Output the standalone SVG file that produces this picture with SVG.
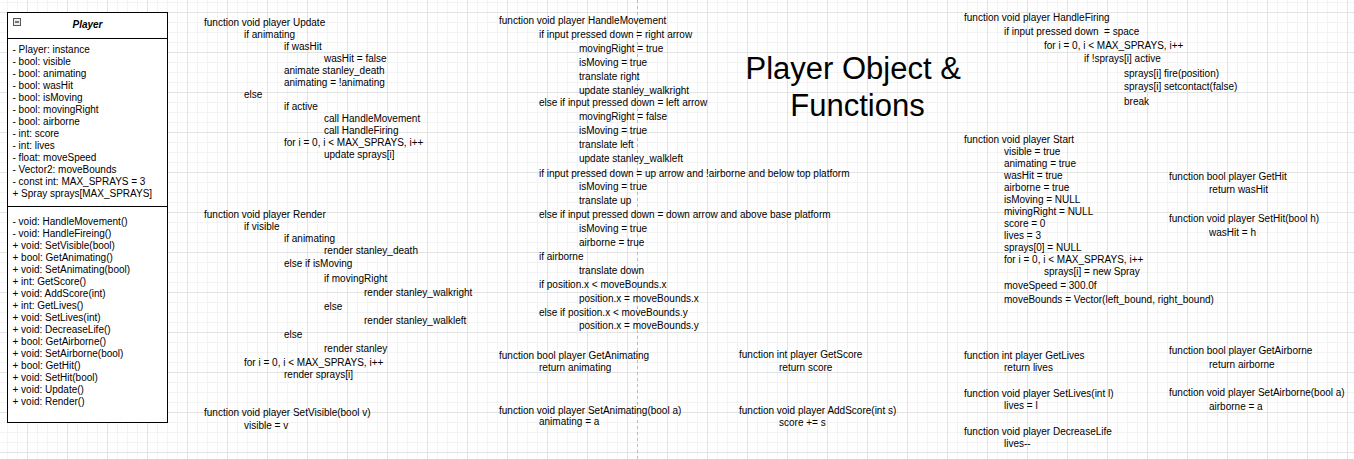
<svg xmlns="http://www.w3.org/2000/svg" width="1354" height="459" viewBox="0 0 1354 459">
<style>
.t{font-family:"Liberation Sans",Arial,Helvetica,sans-serif;font-size:10px;fill:#000}
.ttl{font-family:"Liberation Sans",Arial,Helvetica,sans-serif;font-size:31px;fill:#000;text-anchor:middle}
.hdr{font-family:"Liberation Sans",Arial,Helvetica,sans-serif;font-size:10px;font-weight:bold;font-style:italic;fill:#000;text-anchor:middle}
</style>
<defs>
<pattern id="grid" patternUnits="userSpaceOnUse" x="27" y="12" width="40" height="40">
<path d="M10.5 0V40M20.5 0V40M30.5 0V40M0 10.5H40M0 20.5H40M0 30.5H40" stroke="#f3f3f3" stroke-width="1" fill="none"/>
<path d="M0.5 0V40M0 0.5H40" stroke="#e3e3e3" stroke-width="1" fill="none"/>
</pattern>
</defs>
<rect width="1354" height="459" fill="#fff"/>
<rect width="1354" height="459" fill="url(#grid)"/>
<line x1="637.5" y1="0" x2="637.5" y2="459" stroke="#bdbdbd" stroke-width="1" stroke-dasharray="3 3"/>
<g id="connectors"/>

<g id="player-class">
<rect x="7.5" y="12.5" width="160" height="410" fill="#fff" stroke="#000"/>
<line x1="7.5" y1="38.5" x2="167.5" y2="38.5" stroke="#000"/>
<line x1="7.5" y1="206.5" x2="167.5" y2="206.5" stroke="#000"/>
<rect x="13.5" y="18.5" width="7" height="7" fill="#eee" stroke="#555"/>
<line x1="15" y1="22" x2="19" y2="22" stroke="#222" stroke-width="1.2"/>
<text class="hdr" x="87.5" y="28">Player</text>
<text class="t">
<tspan x="12.5" y="52.5">- Player: instance</tspan>
<tspan x="12.5" y="64.5">- bool: visible</tspan>
<tspan x="12.5" y="76.5">- bool: animating</tspan>
<tspan x="12.5" y="88.5">- bool: wasHit</tspan>
<tspan x="12.5" y="100.5">- bool: isMoving</tspan>
<tspan x="12.5" y="112.5">- bool: movingRight</tspan>
<tspan x="12.5" y="124.5">- bool: airborne</tspan>
<tspan x="12.5" y="136.5">- int: score</tspan>
<tspan x="12.5" y="148.5">- int: lives</tspan>
<tspan x="12.5" y="160.5">- float: moveSpeed</tspan>
<tspan x="12.5" y="172.5">- Vector2: moveBounds</tspan>
<tspan x="12.5" y="184.5">- const int: MAX_SPRAYS = 3</tspan>
<tspan x="12.5" y="196.5">+ Spray sprays[MAX_SPRAYS]</tspan>
</text>
<text class="t">
<tspan x="12.5" y="224.5">- void: HandleMovement()</tspan>
<tspan x="12.5" y="236.5">- void: HandleFireing()</tspan>
<tspan x="12.5" y="248.5">+ void: SetVisible(bool)</tspan>
<tspan x="12.5" y="260.5">+ bool: GetAnimating()</tspan>
<tspan x="12.5" y="272.5">+ void: SetAnimating(bool)</tspan>
<tspan x="12.5" y="284.5">+ int: GetScore()</tspan>
<tspan x="12.5" y="296.5">+ void: AddScore(int)</tspan>
<tspan x="12.5" y="308.5">+ int: GetLives()</tspan>
<tspan x="12.5" y="320.5">+ void: SetLives(int)</tspan>
<tspan x="12.5" y="332.5">+ void: DecreaseLife()</tspan>
<tspan x="12.5" y="344.5">+ bool: GetAirborne()</tspan>
<tspan x="12.5" y="356.5">+ void: SetAirborne(bool)</tspan>
<tspan x="12.5" y="368.5">+ bool: GetHit()</tspan>
<tspan x="12.5" y="380.5">+ void: SetHit(bool)</tspan>
<tspan x="12.5" y="392.5">+ void: Update()</tspan>
<tspan x="12.5" y="404.5">+ void: Render()</tspan>
</text>
</g>

<g id="fn-update">
<text class="t">
<tspan x="204" y="25.5">function void player Update</tspan>
<tspan x="244" y="37.5">if animating</tspan>
<tspan x="284" y="49.5">if wasHit</tspan>
<tspan x="324" y="61.5">wasHit = false</tspan>
<tspan x="284" y="73.5">animate stanley_death</tspan>
<tspan x="284" y="85.5">animating = !animating</tspan>
<tspan x="244" y="97.5">else</tspan>
<tspan x="284" y="109.5">if active</tspan>
<tspan x="324" y="121.5">call HandleMovement</tspan>
<tspan x="324" y="133.5">call HandleFiring</tspan>
<tspan x="284" y="145.5">for i = 0, i &lt; MAX_SPRAYS, i++</tspan>
<tspan x="324" y="157.5">update sprays[i]</tspan>
</text>
</g>

<g id="fn-render">
<text class="t">
<tspan x="204" y="217.5">function void player Render</tspan>
<tspan x="244" y="229.5">if visible</tspan>
<tspan x="284" y="241.5">if animating</tspan>
<tspan x="324" y="253.5">render stanley_death</tspan>
<tspan x="284" y="267">else if isMoving</tspan>
<tspan x="324" y="281.5">if movingRight</tspan>
<tspan x="364" y="295.5">render stanley_walkright</tspan>
<tspan x="324" y="309.5">else</tspan>
<tspan x="364" y="323.5">render stanley_walkleft</tspan>
<tspan x="284" y="337.5">else</tspan>
<tspan x="324" y="351.5">render stanley</tspan>
<tspan x="244" y="365.5">for i = 0, i &lt; MAX_SPRAYS, i++</tspan>
<tspan x="284" y="377.5">render sprays[i]</tspan>
</text>
</g>

<g id="fn-setvisible">
<text class="t">
<tspan x="204" y="415.8">function void player SetVisible(bool v)</tspan>
<tspan x="244" y="428.5">visible = v</tspan>
</text>
</g>

<g id="fn-handlemovement">
<text class="t">
<tspan x="499" y="24.2">function void player HandleMovement</tspan>
<tspan x="539" y="38.2">if input pressed down = right arrow</tspan>
<tspan x="579" y="52.2">movingRight = true</tspan>
<tspan x="579" y="66.2">isMoving = true</tspan>
<tspan x="579" y="80.2">translate right</tspan>
<tspan x="579" y="94.2">update stanley_walkright</tspan>
<tspan x="539" y="106.2">else if input pressed down = left arrow</tspan>
<tspan x="579" y="120.2">movingRight = false</tspan>
<tspan x="579" y="134.2">isMoving = true</tspan>
<tspan x="579" y="148.2">translate left</tspan>
<tspan x="579" y="162.2">update stanley_walkleft</tspan>
<tspan x="539" y="176.5">if input pressed down = up arrow and !airborne and below top platform</tspan>
<tspan x="579" y="190.2">isMoving = true</tspan>
<tspan x="579" y="204.2">translate up</tspan>
<tspan x="539" y="218.2">else if input pressed down = down arrow and above base platform</tspan>
<tspan x="579" y="232.2">isMoving = true</tspan>
<tspan x="579" y="246.2">airborne = true</tspan>
<tspan x="539" y="260.2">if airborne</tspan>
<tspan x="579" y="274.2">translate down</tspan>
<tspan x="539" y="288.2">if position.x &lt; moveBounds.x</tspan>
<tspan x="579" y="301.5">position.x = moveBounds.x</tspan>
<tspan x="539" y="315.5">else if position.x &lt; moveBounds.y</tspan>
<tspan x="579" y="329.2">position.x = moveBounds.y</tspan>
</text>
</g>

<g id="fn-getanimating">
<text class="t">
<tspan x="499" y="359.2">function bool player GetAnimating</tspan>
<tspan x="539" y="371.2">return animating</tspan>
</text>
</g>

<g id="fn-setanimating">
<text class="t">
<tspan x="499" y="413.5">function void player SetAnimating(bool a)</tspan>
<tspan x="539" y="425.2">animating = a</tspan>
</text>
</g>

<g id="fn-getscore">
<text class="t">
<tspan x="739" y="357.5">function int player GetScore</tspan>
<tspan x="779" y="371.2">return score</tspan>
</text>
</g>

<g id="fn-addscore">
<text class="t">
<tspan x="739" y="413.5">function void player AddScore(int s)</tspan>
<tspan x="779" y="426.2">score += s</tspan>
</text>
</g>

<g id="title">
<text class="ttl">
<tspan x="857.5" y="78.5">Player Object &amp;</tspan>
<tspan x="857.5" y="116">Functions</tspan>
</text>
</g>

<g id="fn-handlefiring">
<text class="t" xml:space="preserve">
<tspan x="964" y="20.8">function void player HandleFiring</tspan>
<tspan x="1004" y="34.5">if input pressed down  = space</tspan>
<tspan x="1044" y="48.5">for i = 0, i &lt; MAX_SPRAYS, i++</tspan>
<tspan x="1084" y="62.2">if !sprays[i] active</tspan>
<tspan x="1124" y="76.8">sprays[i] fire(position)</tspan>
<tspan x="1124" y="90.2">sprays[i] setcontact(false)</tspan>
<tspan x="1124" y="104.5">break</tspan>
</text>
</g>

<g id="fn-start">
<text class="t">
<tspan x="964" y="142.5">function void player Start</tspan>
<tspan x="1004" y="154.5">visible = true</tspan>
<tspan x="1004" y="166.5">animating = true</tspan>
<tspan x="1004" y="178.5">wasHit = true</tspan>
<tspan x="1004" y="190.5">airborne = true</tspan>
<tspan x="1004" y="202.5">isMoving = NULL</tspan>
<tspan x="1004" y="214.5">mivingRight = NULL</tspan>
<tspan x="1004" y="226.5">score = 0</tspan>
<tspan x="1004" y="238.5">lives = 3</tspan>
<tspan x="1004" y="250.5">sprays[0] = NULL</tspan>
<tspan x="1004" y="262.5">for i = 0, i &lt; MAX_SPRAYS, i++</tspan>
<tspan x="1044" y="274.5">sprays[i] = new Spray</tspan>
<tspan x="1004" y="288.5">moveSpeed = 300.0f</tspan>
<tspan x="1004" y="302.5">moveBounds = Vector(left_bound, right_bound)</tspan>
</text>
</g>

<g id="fn-gethit">
<text class="t">
<tspan x="1169" y="179.5">function bool player GetHit</tspan>
<tspan x="1209" y="193.2">return wasHit</tspan>
</text>
</g>

<g id="fn-sethit">
<text class="t">
<tspan x="1169" y="221.5">function void player SetHit(bool h)</tspan>
<tspan x="1209" y="235.5">wasHit = h</tspan>
</text>
</g>

<g id="fn-getlives">
<text class="t">
<tspan x="964" y="358.5">function int player GetLives</tspan>
<tspan x="1004" y="370.5">return lives</tspan>
</text>
</g>

<g id="fn-setlives">
<text class="t">
<tspan x="964" y="396.5">function void player SetLives(int l)</tspan>
<tspan x="1004" y="408.5">lives = l</tspan>
</text>
</g>

<g id="fn-decreaselife">
<text class="t">
<tspan x="964" y="434.5">function void player DecreaseLife</tspan>
<tspan x="1004" y="446.8">lives--</tspan>
</text>
</g>

<g id="fn-getairborne">
<text class="t">
<tspan x="1169" y="354.2">function bool player GetAirborne</tspan>
<tspan x="1209" y="368.2">return airborne</tspan>
</text>
</g>

<g id="fn-setairborne">
<text class="t">
<tspan x="1169" y="396.2">function void player SetAirborne(bool a)</tspan>
<tspan x="1209" y="410.2">airborne = a</tspan>
</text>
</g>
</svg>
